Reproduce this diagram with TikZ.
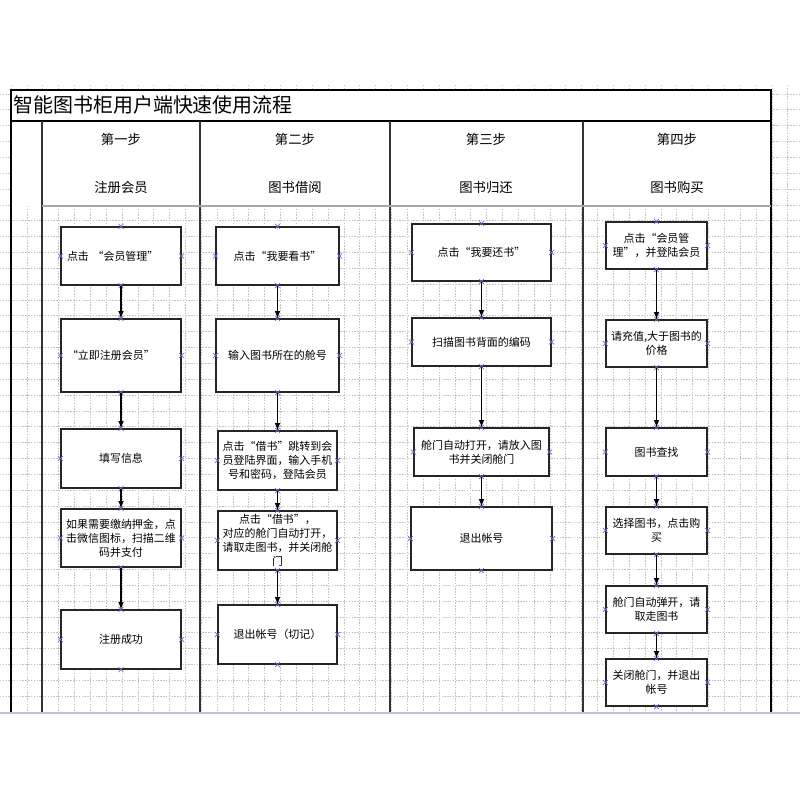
\documentclass[tikz,border=0pt]{standalone}
\usepackage{fontspec}
\newfontfamily\cjk{Noto Sans CJK SC}
\usetikzlibrary{shapes.misc}
\definecolor{markblue}{RGB}{110,110,210}
\definecolor{gridgray}{RGB}{195,195,195}
\definecolor{pageline}{RGB}{195,195,220}

\begin{document}
\begin{tikzpicture}[x=0.025cm, y=-0.025cm,
	box/.style 2 args={draw=black!85, line width=0.9pt, fill=white, minimum width=#1*0.025cm, minimum height=#2*0.025cm, inner sep=1pt, align=center, font=\cjk\fontsize{7.8}{10}\selectfont},
	lefttext/.style={text width=108*0.025cm, align=left},
	flow/.style={-latex, line width=0.8pt},
	xmark/.style={cross out, draw=markblue, line width=0.5pt, minimum size=3pt, inner sep=0pt},
	gridline/.style={gridgray, line width=0.4pt, dash pattern=on 1pt off 1pt},
	lane/.style={black!80, line width=0.9pt},
	head/.style={font=\cjk\fontsize{9.5}{12}\selectfont}]
	\useasboundingbox (0,0) rectangle (800,800);
	% grid
	\foreach \i in {0,...,50}
		\draw[gridline] ({11+\i*15.85},85) -- ({11+\i*15.85},712);
	\foreach \j in {0,...,39}
		\draw[gridline] (0,{712-\j*15.85}) -- (800,{712-\j*15.85});
	\fill[white] (11,90) rectangle (771,206);
	% frame and lanes
	\draw[line width=1pt] (11,712) -- (11,90) -- (771,90) -- (771,712);
	\draw[line width=1.4pt] (11,121) -- (771,121);
	\foreach \x in {42,200,390,583}
		\draw[lane] (\x,121) -- (\x,712);
	\draw[gray!70, line width=1pt] (42,206) -- (771,206);
	\draw[pageline, line width=1.5pt] (0,713) -- (800,713);
	\node[anchor=west, inner sep=0pt, font=\cjk\fontsize{14.2}{16}\selectfont] (title) at (13,105) {智能图书柜用户端快速使用流程};
	% lane heads
	\node[head] (s1) at (121,139) {第一步};
	\node[head] (t1) at (121,187) {注册会员};
	\node[head] (s2) at (295,139) {第二步};
	\node[head] (t2) at (295,187) {图书借阅};
	\node[head] (s3) at (486,139) {第三步};
	\node[head] (t3) at (486,187) {图书归还};
	\node[head] (s4) at (677,139) {第四步};
	\node[head] (t4) at (677,187) {图书购买};
	% step 1
	\node[box={120}{58}, lefttext] (b1) at (121,256) {点击 “会员管理”};
	\node[box={120}{73}, lefttext] (b2) at (121,355.5) {“立即注册会员”};
	\node[box={120}{59}] (b3) at (121,458.5) {填写信息};
	\node[box={120}{58}] (b4) at (121,538) {如果需要缴纳押金，点\\击微信图标，扫描二维\\码并支付};
	\node[box={120}{59}] (b5) at (121,639.5) {注册成功};
	% step 2
	\node[box={123}{58}] (c1) at (277.5,256) {点击“我要看书”};
	\node[box={123}{73}] (c2) at (277.5,355.5) {输入图书所在的舱号};
	\node[box={119}{59}] (c3) at (277.5,460.5) {点击“借书”跳转到会\\员登陆界面，输入手机\\号和密码，登陆会员};
	\node[box={119}{59}] (c4) at (277.5,540.5) {点击“借书”，\\对应的舱门自动打开，\\请取走图书，并关闭舱\\门};
	\node[box={119}{59}] (c5) at (277.5,634.5) {退出帐号（切记）};
	% step 3
	\node[box={139}{57}] (d1) at (481.5,252.5) {点击“我要还书”};
	\node[box={139}{48}] (d2) at (481.5,342) {扫描图书背面的编码};
	\node[box={135}{48}] (d3) at (481.5,452) {舱门自动打开，请放入图\\书并关闭舱门};
	\node[box={141}{63}] (d4) at (481.5,538.5) {退出帐号};
	% step 4
	\node[box={101}{47}] (e1) at (656.5,245.5) {点击“会员管\\理”，并登陆会员};
	\node[box={101}{47}] (e2) at (656.5,343.5) {请充值,大于图书的\\价格};
	\node[box={101}{48}] (e3) at (656.5,452) {图书查找};
	\node[box={101}{47}] (e4) at (656.5,530.5) {选择图书，点击购\\买};
	\node[box={101}{47}] (e5) at (656.5,609.5) {舱门自动弹开，请\\取走图书};
	\node[box={101}{47}] (e6) at (656.5,682.5) {关闭舱门，并退出\\帐号};
	% connection marks
	\foreach \n in {b1,b2,b3,b4,b5,c1,c2,c3,c4,c5,d1,d2,d3,d4,e1,e2,e3,e4,e5,e6}
		\foreach \a in {north,south,east,west}
			\node[xmark] (\n-\a) at (\n.\a) {};
	% arrows
	\foreach \p/\q in {b1/b2,b2/b3,b3/b4,b4/b5,c1/c2,c2/c3,c3/c4,c4/c5,d1/d2,d2/d3,d3/d4,e1/e2,e2/e3,e3/e4,e4/e5,e5/e6}
		\draw[flow] (\p.south) -- (\q.north);
\end{tikzpicture}
\end{document}
